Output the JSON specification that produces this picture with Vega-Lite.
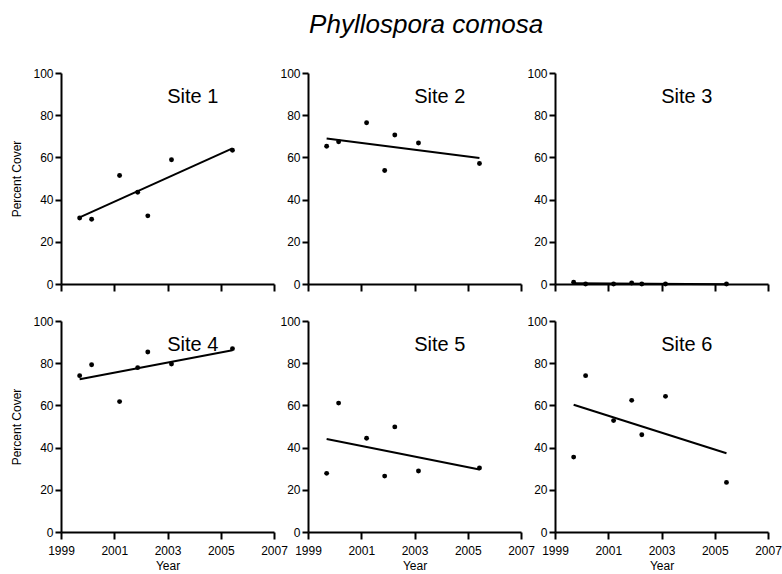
{
  "$schema": "https://vega.github.io/schema/vega-lite/v6.json",
  "padding": {"left": 10, "top": 12, "right": 3, "bottom": 3},
  "title": {"text": "Phyllospora comosa", "fontSize": 26, "fontStyle": "italic", "fontWeight": "normal", "font": "Liberation Sans", "color": "black", "anchor": "middle", "offset": 29, "dx": 30},
  "datasets": {
    "points": [
      {"site": "Site 1", "year": 1999.7, "cover": 31.3},
      {"site": "Site 1", "year": 2000.15, "cover": 30.7},
      {"site": "Site 1", "year": 2001.2, "cover": 51.4},
      {"site": "Site 1", "year": 2001.88, "cover": 43.5},
      {"site": "Site 1", "year": 2002.26, "cover": 32.3},
      {"site": "Site 1", "year": 2003.15, "cover": 58.9},
      {"site": "Site 1", "year": 2005.44, "cover": 63.4},
      {"site": "Site 2", "year": 1999.7, "cover": 65.3},
      {"site": "Site 2", "year": 2000.15, "cover": 67.4},
      {"site": "Site 2", "year": 2001.2, "cover": 76.4},
      {"site": "Site 2", "year": 2001.88, "cover": 53.8},
      {"site": "Site 2", "year": 2002.26, "cover": 70.6},
      {"site": "Site 2", "year": 2003.15, "cover": 66.8},
      {"site": "Site 2", "year": 2005.44, "cover": 57.1},
      {"site": "Site 3", "year": 1999.7, "cover": 0.8},
      {"site": "Site 3", "year": 2000.15, "cover": 0},
      {"site": "Site 3", "year": 2001.2, "cover": 0},
      {"site": "Site 3", "year": 2001.88, "cover": 0.5},
      {"site": "Site 3", "year": 2002.26, "cover": 0},
      {"site": "Site 3", "year": 2003.15, "cover": 0},
      {"site": "Site 3", "year": 2005.44, "cover": 0},
      {"site": "Site 4", "year": 1999.7, "cover": 74.1},
      {"site": "Site 4", "year": 2000.15, "cover": 79.3},
      {"site": "Site 4", "year": 2001.2, "cover": 61.8},
      {"site": "Site 4", "year": 2001.88, "cover": 77.9},
      {"site": "Site 4", "year": 2002.26, "cover": 85.3},
      {"site": "Site 4", "year": 2003.15, "cover": 79.6},
      {"site": "Site 4", "year": 2005.44, "cover": 86.9},
      {"site": "Site 5", "year": 1999.7, "cover": 27.8},
      {"site": "Site 5", "year": 2000.15, "cover": 61.1},
      {"site": "Site 5", "year": 2001.2, "cover": 44.4},
      {"site": "Site 5", "year": 2001.88, "cover": 26.5},
      {"site": "Site 5", "year": 2002.26, "cover": 49.8},
      {"site": "Site 5", "year": 2003.15, "cover": 28.9},
      {"site": "Site 5", "year": 2005.44, "cover": 30.3},
      {"site": "Site 6", "year": 1999.7, "cover": 35.5},
      {"site": "Site 6", "year": 2000.15, "cover": 74.1},
      {"site": "Site 6", "year": 2001.2, "cover": 52.8},
      {"site": "Site 6", "year": 2001.88, "cover": 62.4},
      {"site": "Site 6", "year": 2002.26, "cover": 46.1},
      {"site": "Site 6", "year": 2003.15, "cover": 64.3},
      {"site": "Site 6", "year": 2005.44, "cover": 23.5}
    ],
    "labels": [
      {"site": "Site 1", "year": 2003.95, "cover": 88.6},
      {"site": "Site 2", "year": 2003.95, "cover": 88.6},
      {"site": "Site 3", "year": 2003.95, "cover": 88.6},
      {"site": "Site 4", "year": 2003.95, "cover": 88.6},
      {"site": "Site 5", "year": 2003.95, "cover": 88.6},
      {"site": "Site 6", "year": 2003.95, "cover": 88.6}
    ]
  },
  "data": {"name": "points"},
  "columns": 3,
  "bounds": "flush",
  "spacing": {"row": 37, "column": 34},
  "concat": [
    {
      "width": 213, "height": 211,
      "layer": [
        {"transform": [{"filter": "datum.site == 'Site 1'"}], "mark": {"type": "point", "filled": true, "size": 24, "color": "black", "opacity": 1},
         "encoding": {
           "x": {"field": "year", "type": "quantitative", "scale": {"domain": [1999, 2007], "nice": false, "zero": false}, "axis": {"values": [1999,2000,2001,2002,2003,2004,2005,2006,2007], "labels": false, "title": null, "tickSize": {"condition": {"test": "datum.value % 2 == 1", "value": 7}, "value": 4}}},
           "y": {"field": "cover", "type": "quantitative", "scale": {"domain": [0, 100], "nice": false}, "axis": {"values": [0,20,40,60,80,100], "title": "Percent Cover"}}}},
        {"transform": [{"filter": "datum.site == 'Site 1'"}, {"regression": "cover", "on": "year"}], "mark": {"type": "line", "color": "black", "strokeWidth": 2},
         "encoding": {"x": {"field": "year", "type": "quantitative"}, "y": {"field": "cover", "type": "quantitative"}}},
        {"data": {"name": "labels"}, "transform": [{"filter": "datum.site == 'Site 1'"}], "mark": {"type": "text", "fontSize": 20, "font": "Liberation Sans", "color": "black", "align": "center", "baseline": "middle"},
         "encoding": {"x": {"field": "year", "type": "quantitative"}, "y": {"field": "cover", "type": "quantitative"}, "text": {"field": "site"}}}
      ]
    },
    {
      "width": 213, "height": 211,
      "layer": [
        {"transform": [{"filter": "datum.site == 'Site 2'"}], "mark": {"type": "point", "filled": true, "size": 24, "color": "black", "opacity": 1},
         "encoding": {
           "x": {"field": "year", "type": "quantitative", "scale": {"domain": [1999, 2007], "nice": false, "zero": false}, "axis": {"values": [1999,2000,2001,2002,2003,2004,2005,2006,2007], "labels": false, "title": null, "tickSize": {"condition": {"test": "datum.value % 2 == 1", "value": 7}, "value": 4}}},
           "y": {"field": "cover", "type": "quantitative", "scale": {"domain": [0, 100], "nice": false}, "axis": {"values": [0,20,40,60,80,100], "title": null}}}},
        {"transform": [{"filter": "datum.site == 'Site 2'"}, {"regression": "cover", "on": "year"}], "mark": {"type": "line", "color": "black", "strokeWidth": 2},
         "encoding": {"x": {"field": "year", "type": "quantitative"}, "y": {"field": "cover", "type": "quantitative"}}},
        {"data": {"name": "labels"}, "transform": [{"filter": "datum.site == 'Site 2'"}], "mark": {"type": "text", "fontSize": 20, "font": "Liberation Sans", "color": "black", "align": "center", "baseline": "middle"},
         "encoding": {"x": {"field": "year", "type": "quantitative"}, "y": {"field": "cover", "type": "quantitative"}, "text": {"field": "site"}}}
      ]
    },
    {
      "width": 213, "height": 211,
      "layer": [
        {"transform": [{"filter": "datum.site == 'Site 3'"}], "mark": {"type": "point", "filled": true, "size": 24, "color": "black", "opacity": 1},
         "encoding": {
           "x": {"field": "year", "type": "quantitative", "scale": {"domain": [1999, 2007], "nice": false, "zero": false}, "axis": {"values": [1999,2000,2001,2002,2003,2004,2005,2006,2007], "labels": false, "title": null, "tickSize": {"condition": {"test": "datum.value % 2 == 1", "value": 7}, "value": 4}}},
           "y": {"field": "cover", "type": "quantitative", "scale": {"domain": [0, 100], "nice": false}, "axis": {"values": [0,20,40,60,80,100], "title": null}}}},
        {"transform": [{"filter": "datum.site == 'Site 3'"}, {"regression": "cover", "on": "year"}], "mark": {"type": "line", "color": "black", "strokeWidth": 2},
         "encoding": {"x": {"field": "year", "type": "quantitative"}, "y": {"field": "cover", "type": "quantitative"}}},
        {"data": {"name": "labels"}, "transform": [{"filter": "datum.site == 'Site 3'"}], "mark": {"type": "text", "fontSize": 20, "font": "Liberation Sans", "color": "black", "align": "center", "baseline": "middle"},
         "encoding": {"x": {"field": "year", "type": "quantitative"}, "y": {"field": "cover", "type": "quantitative"}, "text": {"field": "site"}}}
      ]
    },
    {
      "width": 213, "height": 211,
      "layer": [
        {"transform": [{"filter": "datum.site == 'Site 4'"}], "mark": {"type": "point", "filled": true, "size": 24, "color": "black", "opacity": 1},
         "encoding": {
           "x": {"field": "year", "type": "quantitative", "scale": {"domain": [1999, 2007], "nice": false, "zero": false}, "axis": {"values": [1999,2000,2001,2002,2003,2004,2005,2006,2007], "format": "d", "labelExpr": "datum.value % 2 == 1 ? datum.label : ''", "title": "Year", "tickSize": {"condition": {"test": "datum.value % 2 == 1", "value": 7}, "value": 4}}},
           "y": {"field": "cover", "type": "quantitative", "scale": {"domain": [0, 100], "nice": false}, "axis": {"values": [0,20,40,60,80,100], "title": "Percent Cover"}}}},
        {"transform": [{"filter": "datum.site == 'Site 4'"}, {"regression": "cover", "on": "year"}], "mark": {"type": "line", "color": "black", "strokeWidth": 2},
         "encoding": {"x": {"field": "year", "type": "quantitative"}, "y": {"field": "cover", "type": "quantitative"}}},
        {"data": {"name": "labels"}, "transform": [{"filter": "datum.site == 'Site 4'"}], "mark": {"type": "text", "fontSize": 20, "font": "Liberation Sans", "color": "black", "align": "center", "baseline": "middle"},
         "encoding": {"x": {"field": "year", "type": "quantitative"}, "y": {"field": "cover", "type": "quantitative"}, "text": {"field": "site"}}}
      ]
    },
    {
      "width": 213, "height": 211,
      "layer": [
        {"transform": [{"filter": "datum.site == 'Site 5'"}], "mark": {"type": "point", "filled": true, "size": 24, "color": "black", "opacity": 1},
         "encoding": {
           "x": {"field": "year", "type": "quantitative", "scale": {"domain": [1999, 2007], "nice": false, "zero": false}, "axis": {"values": [1999,2000,2001,2002,2003,2004,2005,2006,2007], "format": "d", "labelExpr": "datum.value % 2 == 1 ? datum.label : ''", "title": "Year", "tickSize": {"condition": {"test": "datum.value % 2 == 1", "value": 7}, "value": 4}}},
           "y": {"field": "cover", "type": "quantitative", "scale": {"domain": [0, 100], "nice": false}, "axis": {"values": [0,20,40,60,80,100], "title": null}}}},
        {"transform": [{"filter": "datum.site == 'Site 5'"}, {"regression": "cover", "on": "year"}], "mark": {"type": "line", "color": "black", "strokeWidth": 2},
         "encoding": {"x": {"field": "year", "type": "quantitative"}, "y": {"field": "cover", "type": "quantitative"}}},
        {"data": {"name": "labels"}, "transform": [{"filter": "datum.site == 'Site 5'"}], "mark": {"type": "text", "fontSize": 20, "font": "Liberation Sans", "color": "black", "align": "center", "baseline": "middle"},
         "encoding": {"x": {"field": "year", "type": "quantitative"}, "y": {"field": "cover", "type": "quantitative"}, "text": {"field": "site"}}}
      ]
    },
    {
      "width": 213, "height": 211,
      "layer": [
        {"transform": [{"filter": "datum.site == 'Site 6'"}], "mark": {"type": "point", "filled": true, "size": 24, "color": "black", "opacity": 1},
         "encoding": {
           "x": {"field": "year", "type": "quantitative", "scale": {"domain": [1999, 2007], "nice": false, "zero": false}, "axis": {"values": [1999,2000,2001,2002,2003,2004,2005,2006,2007], "format": "d", "labelExpr": "datum.value % 2 == 1 ? datum.label : ''", "title": "Year", "tickSize": {"condition": {"test": "datum.value % 2 == 1", "value": 7}, "value": 4}}},
           "y": {"field": "cover", "type": "quantitative", "scale": {"domain": [0, 100], "nice": false}, "axis": {"values": [0,20,40,60,80,100], "title": null}}}},
        {"transform": [{"filter": "datum.site == 'Site 6'"}, {"regression": "cover", "on": "year"}], "mark": {"type": "line", "color": "black", "strokeWidth": 2},
         "encoding": {"x": {"field": "year", "type": "quantitative"}, "y": {"field": "cover", "type": "quantitative"}}},
        {"data": {"name": "labels"}, "transform": [{"filter": "datum.site == 'Site 6'"}], "mark": {"type": "text", "fontSize": 20, "font": "Liberation Sans", "color": "black", "align": "center", "baseline": "middle"},
         "encoding": {"x": {"field": "year", "type": "quantitative"}, "y": {"field": "cover", "type": "quantitative"}, "text": {"field": "site"}}}
      ]
    }
  ],
  "config": {
    "view": {"stroke": null},
    "axis": {"grid": false, "domainColor": "black", "domainWidth": 2, "tickColor": "black", "tickWidth": 2, "labelFont": "Liberation Sans", "labelFontSize": 12, "labelColor": "black", "titleFont": "Liberation Sans", "titleFontSize": 12, "titleFontWeight": "normal", "titleColor": "black", "labelFlush": false, "labelOverlap": false},
    "axisX": {"labelPadding": 6, "titlePadding": 4},
    "axisY": {"tickSize": 6, "labelPadding": 2, "titlePadding": 9}
  }
}
